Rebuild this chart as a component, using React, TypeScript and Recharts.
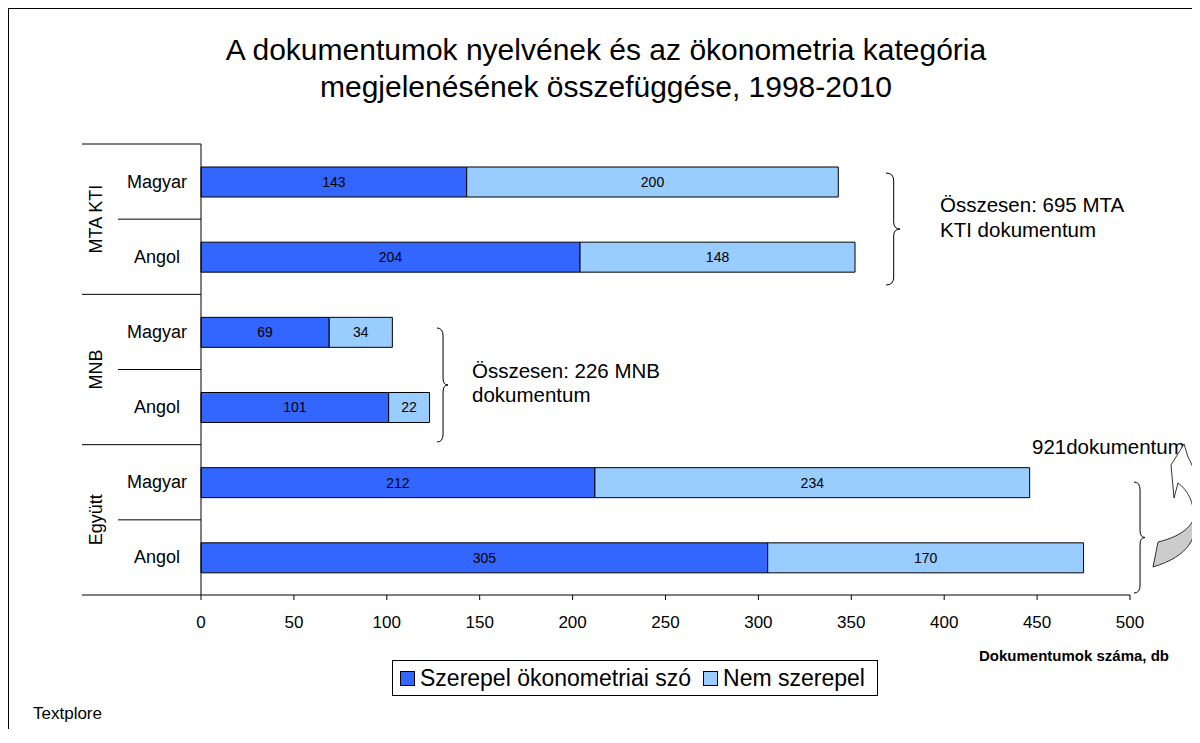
import React from 'react';
import { BarChart, Bar, XAxis, YAxis, LabelList } from 'recharts';

// rows top to bottom
const GROUPS = ['MTA KTI', 'MTA KTI', 'MNB', 'MNB', 'Együtt', 'Együtt'];
const LANGUAGES = ['Magyar', 'Angol', 'Magyar', 'Angol', 'Magyar', 'Angol'];
const WITH_WORD = [143, 204, 69, 101, 212, 305];
const WITHOUT_WORD = [200, 148, 34, 22, 234, 170];
const X_TICKS = [0, 50, 100, 150, 200, 250, 300, 350, 400, 450, 500];
const SERIES_NAMES = ['Szerepel ökonometriai szó', 'Nem szerepel'];
const SERIES_COLORS = ['#3366FF', '#99CCFF'];

const FONT = '"Liberation Sans", Arial, sans-serif';

const rows = GROUPS.map((group, i) => ({
    id: `${group}-${LANGUAGES[i]}`,
    group,
    lang: LANGUAGES[i],
    yes: WITH_WORD[i],
    no: WITHOUT_WORD[i],
}));

// chart geometry (container coordinates)
const CHART_W = 1190;
const CHART_H = 720;
const MARGIN = { top: 135, right: 69, bottom: 104, left: 73 };
const Y_AXIS_W = 119;
const PLOT_LEFT = MARGIN.left + Y_AXIS_W;
const PLOT_H = CHART_H - MARGIN.top - MARGIN.bottom - 30;
const BAND = PLOT_H / rows.length;

const CategoryTick = (props: any) => {
    const { y, index } = props;
    const row = rows[index];
    const firstInGroup = index === 0 || rows[index - 1].group !== row.group;
    const last = index === rows.length - 1;
    return (
        <g>
            <text x={148} y={y} textAnchor="middle" dominantBaseline="central" fontSize={18} fill="#000" fontFamily={FONT}>
                {row.lang}
            </text>
            <line
                x1={firstInGroup ? MARGIN.left : 109}
                x2={PLOT_LEFT}
                y1={y - BAND / 2}
                y2={y - BAND / 2}
                stroke="#000"
            />
            {last && <line x1={MARGIN.left} x2={PLOT_LEFT} y1={y + BAND / 2} y2={y + BAND / 2} stroke="#000" />}
            {firstInGroup && (
                <text
                    x={87}
                    y={y + BAND / 2}
                    textAnchor="middle"
                    dominantBaseline="central"
                    fontSize={18}
                    fill="#000"
                    fontFamily={FONT}
                    transform={`rotate(-90 87 ${y + BAND / 2})`}
                >
                    {row.group}
                </text>
            )}
        </g>
    );
};

const brace = (x: number, top: number, bottom: number, w: number) => {
    const mid = (top + bottom) / 2;
    const v = x + w * 0.55;
    return `M${x},${top} Q${v},${top} ${v},${top + 8} L${v},${mid - 7} Q${v},${mid} ${x + w},${mid} Q${v},${mid} ${v},${mid + 7} L${v},${bottom - 8} Q${v},${bottom} ${x},${bottom}`;
};

const Annotations = () => (
    <svg width={CHART_W} height={CHART_H} style={{ position: 'absolute', left: 0, top: 0, pointerEvents: 'none' }}>
        <g transform="translate(-9,-9)" fontFamily={FONT} fill="#000">
            <path d={brace(886, 173, 285, 14)} fill="none" stroke="#000" />
            <text x={940} y={212} fontSize={20.5}>Összesen: 695 MTA</text>
            <text x={940} y={237} fontSize={20.5}>KTI dokumentum</text>

            <path d={brace(437, 328, 442, 11)} fill="none" stroke="#000" />
            <text x={472} y={378} fontSize={20.5}>Összesen: 226 MNB</text>
            <text x={472} y={402} fontSize={20.5}>dokumentum</text>

            <path d={brace(1134, 482, 593, 11)} fill="none" stroke="#000" />
            <text x={1032} y={454} fontSize={20.5}>921dokumentum</text>

            {/* curved arrow */}
            <path
                d="M1153,567 L1158,542 C1175,538 1190,530 1194,518 C1198,536 1190,556 1153,567 Z"
                fill="#cccccc"
                stroke="#000"
                strokeWidth={0.8}
            />
            <path
                d="M1194,518 C1203,500 1198,475 1188,457 L1184,444 L1171,465 L1174,498 L1178,483 C1188,490 1194,503 1194,518 Z"
                fill="#fff"
                stroke="#000"
                strokeWidth={0.8}
            />
        </g>
    </svg>
);

export default function App() {
    return (
        <div
            style={{
                position: 'relative',
                width: CHART_W,
                height: CHART_H,
                borderLeft: '1px solid #000',
                borderTop: '1px solid #000',
                fontFamily: FONT,
                background: '#fff',
            }}
        >
            <div
                style={{
                    position: 'absolute',
                    left: 0,
                    width: 1194,
                    top: 22,
                    textAlign: 'center',
                    fontSize: 30,
                    lineHeight: '37px',
                    color: '#000',
                }}
            >
                A dokumentumok nyelvének és az ökonometria kategória
                <br />
                megjelenésének összefüggése, 1998-2010
            </div>

            <BarChart
                width={CHART_W}
                height={CHART_H}
                data={rows}
                layout="vertical"
                margin={MARGIN}
                barSize={30}
                style={{ position: 'absolute', left: 0, top: 0 }}
            >
                <XAxis
                    type="number"
                    domain={[0, 500]}
                    ticks={X_TICKS}
                    height={30}
                    axisLine={{ stroke: '#000' }}
                    tickLine={{ stroke: '#000' }}
                    tickSize={5}
                    tickMargin={16}
                    tick={{ fill: '#000', fontSize: 17, fontFamily: FONT }}
                />
                <YAxis
                    type="category"
                    dataKey="id"
                    width={Y_AXIS_W}
                    interval={0}
                    axisLine={{ stroke: '#000' }}
                    tickLine={false}
                    tick={<CategoryTick />}
                />
                <Bar dataKey="yes" name={SERIES_NAMES[0]} stackId="a" fill={SERIES_COLORS[0]} stroke="#000" isAnimationActive={false}>
                    <LabelList dataKey="yes" position="center" fill="#000" fontSize={14} fontFamily={FONT} />
                </Bar>
                <Bar dataKey="no" name={SERIES_NAMES[1]} stackId="a" fill={SERIES_COLORS[1]} stroke="#000" isAnimationActive={false}>
                    <LabelList dataKey="no" position="center" fill="#000" fontSize={14} fontFamily={FONT} />
                </Bar>
            </BarChart>

            <Annotations />

            <div
                style={{
                    position: 'absolute',
                    right: 1190 - 1160,
                    top: 638,
                    fontSize: 15,
                    fontWeight: 'bold',
                    color: '#000',
                }}
            >
                Dokumentumok száma, db
            </div>

            {/* legend */}
            <div
                style={{
                    position: 'absolute',
                    left: 383,
                    top: 651,
                    width: 486,
                    height: 36,
                    border: '1px solid #000',
                    display: 'flex',
                    alignItems: 'center',
                    paddingLeft: 7,
                    gap: 12,
                    fontSize: 23,
                    color: '#000',
                    boxSizing: 'border-box',
                    whiteSpace: 'nowrap',
                }}
            >
                {SERIES_NAMES.map((name, i) => (
                    <span key={name} style={{ display: 'flex', alignItems: 'center', gap: 5 }}>
                        <span
                            style={{
                                display: 'inline-block',
                                width: 13,
                                height: 13,
                                background: SERIES_COLORS[i],
                                border: '1px solid #000',
                            }}
                        />
                        {name}
                    </span>
                ))}
            </div>

            <div style={{ position: 'absolute', left: 24, top: 695, fontSize: 17, color: '#000' }}>Textplore</div>
        </div>
    );
}
